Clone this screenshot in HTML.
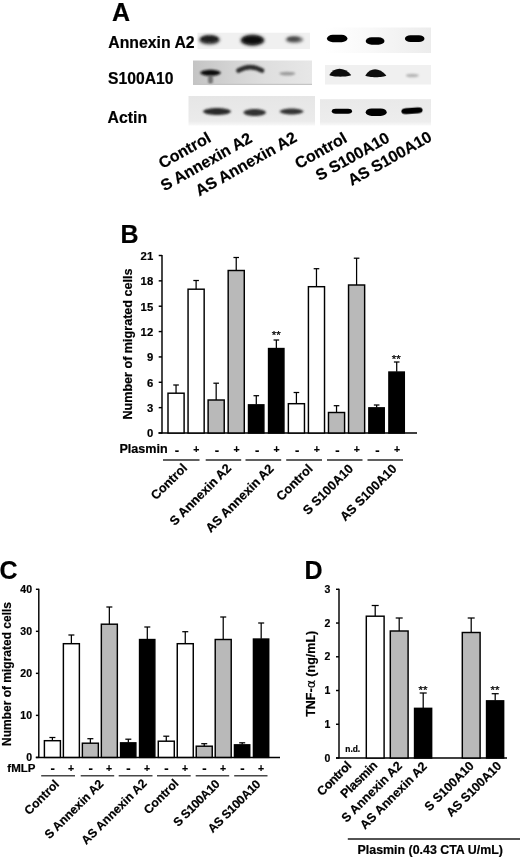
<!DOCTYPE html>
<html><head><meta charset="utf-8"><title>Figure</title>
<style>html,body{margin:0;padding:0;background:#fff}svg{display:block}text{stroke:#000;stroke-width:.2px;stroke-linejoin:round}text.t{stroke-width:.7px}text.st{stroke-width:.25px;font-weight:normal}</style>
</head><body>
<svg width="520" height="859" viewBox="0 0 520 859" font-family="Liberation Sans, sans-serif" font-weight="bold" fill="#000">
<defs>
<filter id="b0" x="-50%" y="-150%" width="200%" height="400%"><feGaussianBlur stdDeviation="0.7"/></filter>
<filter id="b1" x="-50%" y="-150%" width="200%" height="400%"><feGaussianBlur stdDeviation="1.2"/></filter>
<filter id="b2" x="-50%" y="-150%" width="200%" height="400%"><feGaussianBlur stdDeviation="1.6"/></filter>
<filter id="b3" x="-50%" y="-150%" width="200%" height="400%"><feGaussianBlur stdDeviation="2.2"/></filter>
<linearGradient id="g2" x1="0" x2="1"><stop offset="0" stop-color="#c4c4c4"/><stop offset="0.3" stop-color="#d2d2d2"/><stop offset="0.6" stop-color="#dedede"/><stop offset="1" stop-color="#e7e7e7"/></linearGradient>
<linearGradient id="g1" x1="0" x2="1"><stop offset="0" stop-color="#ffffff"/><stop offset="0.4" stop-color="#f9f9f9"/><stop offset="1" stop-color="#ececec"/></linearGradient>
<linearGradient id="g3" x1="0" x2="0" y1="0" y2="1"><stop offset="0" stop-color="#e6e6e6"/><stop offset="0.85" stop-color="#ebebeb"/><stop offset="1" stop-color="#f8f8f8"/></linearGradient>
<linearGradient id="g4" x1="0" x2="0" y1="0" y2="1"><stop offset="0" stop-color="#e9e9e9"/><stop offset="0.85" stop-color="#ededed"/><stop offset="1" stop-color="#f9f9f9"/></linearGradient>
</defs>
<rect width="520" height="859" fill="#fff" stroke="none"/>
<text x="112" y="21" font-size="25" text-anchor="start" >A</text>
<text x="108.3" y="47.5" font-size="15.8" text-anchor="start" >Annexin A2</text>
<text x="108" y="84" font-size="15.7" text-anchor="start" >S100A10</text>
<text x="107.6" y="122.5" font-size="15.8" text-anchor="start" >Actin</text>
<rect x="197.5" y="32.7" width="112.5" height="16.4" fill="#f0f0f0"/>
<ellipse cx="209.5" cy="39.8" rx="10.5" ry="4.75" fill="#4a4a4a" opacity="1" filter="url(#b2)"/>
<ellipse cx="209.5" cy="39.0" rx="8.5" ry="2.75" fill="#1a1a1a" opacity="1" filter="url(#b1)"/>
<ellipse cx="252.5" cy="40.2" rx="12.0" ry="5.75" fill="#3a3a3a" opacity="1" filter="url(#b2)"/>
<ellipse cx="252.5" cy="40.0" rx="10.0" ry="3.75" fill="#111" opacity="1" filter="url(#b1)"/>
<ellipse cx="294.4" cy="39.6" rx="9.0" ry="3.5" fill="#777" opacity="1" filter="url(#b2)"/>
<ellipse cx="293.5" cy="39.0" rx="6.0" ry="1.75" fill="#444" opacity="1" filter="url(#b1)"/>
<rect x="193" y="60.5" width="119" height="24.5" fill="url(#g2)"/>
<path d="M200.00,72.8 C202.21,68.66 218.79,68.66 221.00,72.8 C218.79,76.94 202.21,76.94 200.00,72.8Z" fill="#111" opacity="1" filter="url(#b1)"/>
<ellipse cx="210.5" cy="79.5" rx="2.5" ry="4.5" fill="#555" opacity="0.75" filter="url(#b1)"/>
<path d="M238.5,70.5 Q250.3,63.6 262,70.5" fill="none" stroke="#2e2e2e" stroke-width="4.6" stroke-linecap="round" filter="url(#b1)"/>
<ellipse cx="287.3" cy="73.6" rx="8.0" ry="1.9" fill="#909090" opacity="0.85" filter="url(#b1)"/>
<rect x="193" y="83.8" width="119" height="1.2" fill="#c4c4c4"/>
<rect x="188.5" y="96" width="126.5" height="29.5" fill="url(#g3)"/>
<path d="M202.75,111.6 C205.74,106.93 228.26,106.93 231.25,111.6 C228.26,116.27 205.74,116.27 202.75,111.6Z" fill="#2c2c2c" opacity="1" filter="url(#b1)"/>
<path d="M243.20,112.4 C245.61,107.73 263.78,107.73 266.20,112.4 C263.78,117.07 245.61,117.07 243.20,112.4Z" fill="#303030" opacity="1" filter="url(#b1)"/>
<path d="M279.60,111.6 C282.12,107.60 301.08,107.60 303.60,111.6 C301.08,115.60 282.12,115.60 279.60,111.6Z" fill="#363636" opacity="1" filter="url(#b1)"/>
<rect x="325" y="27.5" width="106" height="25.5" fill="url(#g1)"/>
<rect x="326.95" y="34.85" width="20.5" height="7.3" rx="5.84" ry="3.65" fill="#000" opacity="1" filter="url(#b0)"/>
<rect x="365.70" y="37.30" width="18.8" height="7.4" rx="5.92" ry="3.70" fill="#000" opacity="1" filter="url(#b0)"/>
<rect x="404.95" y="35.30" width="19.5" height="6.8" rx="5.44" ry="3.40" fill="#050505" opacity="1" filter="url(#b0)"/>
<rect x="325" y="65" width="106" height="19.5" fill="#f0f0f0"/>
<path d="M329.3,75.0 C334.3,66.6 344.2,66.6 351.2,75.0 C348.2,77.2 332.3,77.2 329.3,75.0Z" fill="#0c0c0c" filter="url(#b0)"/>
<path d="M365.3,75.6 C370.3,67.2 379.3,67.2 386.3,75.6 C383.3,77.8 368.3,77.8 365.3,75.6Z" fill="#0c0c0c" filter="url(#b0)"/>
<ellipse cx="412.3" cy="75.5" rx="6.5" ry="1.75" fill="#aaa" opacity="0.85" filter="url(#b1)"/>
<rect x="320" y="99.2" width="111" height="26.3" fill="url(#g4)"/>
<rect x="331.75" y="108.75" width="20.3" height="4.9" rx="3.92" ry="2.45" fill="#050505" opacity="1" filter="url(#b0)"/>
<rect x="365.70" y="108.50" width="21.0" height="7.4" rx="5.92" ry="3.70" fill="#000" opacity="1" filter="url(#b0)"/>
<rect x="401.35" y="107.70" width="21.3" height="6.0" rx="4.80" ry="3.00" fill="#050505" opacity="1" filter="url(#b0)" transform="rotate(-4 412 110.7)"/>
<text x="162.5" y="169" font-size="16" text-anchor="start" transform="rotate(-29.5 162.5 169)" >Control</text>
<text x="164.5" y="191.5" font-size="16" text-anchor="start" transform="rotate(-29.5 164.5 191.5)" >S Annexin A2</text>
<text x="199.3" y="196.5" font-size="16" text-anchor="start" transform="rotate(-29.5 199.3 196.5)" >AS Annexin A2</text>
<text x="298.7" y="169.2" font-size="16" text-anchor="start" transform="rotate(-29.5 298.7 169.2)" >Control</text>
<text x="319.5" y="181.3" font-size="16" text-anchor="start" transform="rotate(-29.5 319.5 181.3)" >S S100A10</text>
<text x="351.8" y="186.1" font-size="16" text-anchor="start" transform="rotate(-29.5 351.8 186.1)" >AS S100A10</text>
<text x="120.6" y="242.9" font-size="25" text-anchor="start" >B</text>
<line x1="162.0" y1="254.9" x2="162.0" y2="433.6" stroke="#000" stroke-width="1.45"/>
<line x1="158.5" y1="433.0" x2="417" y2="433.0" stroke="#000" stroke-width="1.45"/>
<line x1="158.7" y1="433.0" x2="162.0" y2="433.0" stroke="#000" stroke-width="1.45"/>
<text x="153.2" y="437.4" font-size="11.3" text-anchor="end" >0</text>
<line x1="158.7" y1="407.64285714285717" x2="162.0" y2="407.64285714285717" stroke="#000" stroke-width="1.45"/>
<text x="153.2" y="412.04285714285714" font-size="11.3" text-anchor="end" >3</text>
<line x1="158.7" y1="382.2857142857143" x2="162.0" y2="382.2857142857143" stroke="#000" stroke-width="1.45"/>
<text x="153.2" y="386.68571428571425" font-size="11.3" text-anchor="end" >6</text>
<line x1="158.7" y1="356.92857142857144" x2="162.0" y2="356.92857142857144" stroke="#000" stroke-width="1.45"/>
<text x="153.2" y="361.3285714285714" font-size="11.3" text-anchor="end" >9</text>
<line x1="158.7" y1="331.57142857142856" x2="162.0" y2="331.57142857142856" stroke="#000" stroke-width="1.45"/>
<text x="153.2" y="335.97142857142853" font-size="11.3" text-anchor="end" >12</text>
<line x1="158.7" y1="306.2142857142857" x2="162.0" y2="306.2142857142857" stroke="#000" stroke-width="1.45"/>
<text x="153.2" y="310.6142857142857" font-size="11.3" text-anchor="end" >15</text>
<line x1="158.7" y1="280.8571428571429" x2="162.0" y2="280.8571428571429" stroke="#000" stroke-width="1.45"/>
<text x="153.2" y="285.25714285714287" font-size="11.3" text-anchor="end" >18</text>
<line x1="158.7" y1="255.5" x2="162.0" y2="255.5" stroke="#000" stroke-width="1.45"/>
<text x="153.2" y="259.9" font-size="11.3" text-anchor="end" >21</text>
<text x="132" y="344" font-size="12.6" text-anchor="middle" transform="rotate(-90 132 344)" >Number of migrated cells</text>
<line x1="176.05" y1="393.2" x2="176.05" y2="385" stroke="#000" stroke-width="1.25"/>
<line x1="173.25" y1="385" x2="178.85000000000002" y2="385" stroke="#000" stroke-width="1.25"/>
<rect x="168.00" y="393.20" width="16.10" height="39.80" fill="#fff" stroke="#000" stroke-width="1.45"/>
<text x="176.85000000000002" y="455.0" font-size="13" text-anchor="middle" >-</text>
<line x1="196.11" y1="289.2" x2="196.11" y2="280.5" stroke="#000" stroke-width="1.25"/>
<line x1="193.31" y1="280.5" x2="198.91000000000003" y2="280.5" stroke="#000" stroke-width="1.25"/>
<rect x="188.06" y="289.20" width="16.10" height="143.80" fill="#fff" stroke="#000" stroke-width="1.45"/>
<text x="196.41000000000003" y="453.0" font-size="10.5" text-anchor="middle" >+</text>
<line x1="216.17000000000002" y1="400" x2="216.17000000000002" y2="383.2" stroke="#000" stroke-width="1.25"/>
<line x1="213.37" y1="383.2" x2="218.97000000000003" y2="383.2" stroke="#000" stroke-width="1.25"/>
<rect x="208.12" y="400.00" width="16.10" height="33.00" fill="#b9b9b9" stroke="#000" stroke-width="1.45"/>
<text x="216.97000000000003" y="455.0" font-size="13" text-anchor="middle" >-</text>
<line x1="236.23000000000002" y1="270.5" x2="236.23000000000002" y2="257.5" stroke="#000" stroke-width="1.25"/>
<line x1="233.43" y1="257.5" x2="239.03000000000003" y2="257.5" stroke="#000" stroke-width="1.25"/>
<rect x="228.18" y="270.50" width="16.10" height="162.50" fill="#b9b9b9" stroke="#000" stroke-width="1.45"/>
<text x="236.53000000000003" y="453.0" font-size="10.5" text-anchor="middle" >+</text>
<line x1="256.29" y1="404.5" x2="256.29" y2="395.7" stroke="#000" stroke-width="1.25"/>
<line x1="253.49" y1="395.7" x2="259.09000000000003" y2="395.7" stroke="#000" stroke-width="1.25"/>
<rect x="248.49" y="404.85" width="15.40" height="28.15" fill="#000" stroke="#000" stroke-width="1.45"/>
<text x="257.09000000000003" y="455.0" font-size="13" text-anchor="middle" >-</text>
<line x1="276.35" y1="348.2" x2="276.35" y2="340" stroke="#000" stroke-width="1.25"/>
<line x1="273.55" y1="340" x2="279.15000000000003" y2="340" stroke="#000" stroke-width="1.25"/>
<rect x="268.55" y="348.55" width="15.40" height="84.45" fill="#000" stroke="#000" stroke-width="1.45"/>
<text x="276.65000000000003" y="453.0" font-size="10.5" text-anchor="middle" >+</text>
<line x1="296.41" y1="403.7" x2="296.41" y2="392.5" stroke="#000" stroke-width="1.25"/>
<line x1="293.61" y1="392.5" x2="299.21000000000004" y2="392.5" stroke="#000" stroke-width="1.25"/>
<rect x="288.36" y="403.70" width="16.10" height="29.30" fill="#fff" stroke="#000" stroke-width="1.45"/>
<text x="297.21000000000004" y="455.0" font-size="13" text-anchor="middle" >-</text>
<line x1="316.46999999999997" y1="286.7" x2="316.46999999999997" y2="268.7" stroke="#000" stroke-width="1.25"/>
<line x1="313.66999999999996" y1="268.7" x2="319.27" y2="268.7" stroke="#000" stroke-width="1.25"/>
<rect x="308.42" y="286.70" width="16.10" height="146.30" fill="#fff" stroke="#000" stroke-width="1.45"/>
<text x="316.77" y="453.0" font-size="10.5" text-anchor="middle" >+</text>
<line x1="336.53000000000003" y1="412.5" x2="336.53000000000003" y2="405.7" stroke="#000" stroke-width="1.25"/>
<line x1="333.73" y1="405.7" x2="339.33000000000004" y2="405.7" stroke="#000" stroke-width="1.25"/>
<rect x="328.48" y="412.50" width="16.10" height="20.50" fill="#b9b9b9" stroke="#000" stroke-width="1.45"/>
<text x="337.33000000000004" y="455.0" font-size="13" text-anchor="middle" >-</text>
<line x1="356.59" y1="285" x2="356.59" y2="258.2" stroke="#000" stroke-width="1.25"/>
<line x1="353.78999999999996" y1="258.2" x2="359.39" y2="258.2" stroke="#000" stroke-width="1.25"/>
<rect x="348.54" y="285.00" width="16.10" height="148.00" fill="#b9b9b9" stroke="#000" stroke-width="1.45"/>
<text x="356.89" y="453.0" font-size="10.5" text-anchor="middle" >+</text>
<line x1="376.65000000000003" y1="407.5" x2="376.65000000000003" y2="405" stroke="#000" stroke-width="1.25"/>
<line x1="373.85" y1="405" x2="379.45000000000005" y2="405" stroke="#000" stroke-width="1.25"/>
<rect x="368.85" y="407.85" width="15.40" height="25.15" fill="#000" stroke="#000" stroke-width="1.45"/>
<text x="377.45000000000005" y="455.0" font-size="13" text-anchor="middle" >-</text>
<line x1="396.71" y1="371.7" x2="396.71" y2="362" stroke="#000" stroke-width="1.25"/>
<line x1="393.90999999999997" y1="362" x2="399.51" y2="362" stroke="#000" stroke-width="1.25"/>
<rect x="388.91" y="372.05" width="15.40" height="60.95" fill="#000" stroke="#000" stroke-width="1.45"/>
<text x="397.01" y="453.0" font-size="10.5" text-anchor="middle" >+</text>
<text x="119.4" y="453.4" font-size="12.6" text-anchor="start" >Plasmin</text>
<text x="276.2" y="338.7" font-size="11.5" text-anchor="middle" class="st">**</text>
<text x="396.2" y="362.7" font-size="11.5" text-anchor="middle" class="st">**</text>
<line x1="163" y1="460" x2="199.5" y2="460" stroke="#2a2a2a" stroke-width="1.3"/>
<line x1="205.7" y1="460" x2="241.2" y2="460" stroke="#2a2a2a" stroke-width="1.3"/>
<line x1="245.5" y1="460" x2="281.2" y2="460" stroke="#2a2a2a" stroke-width="1.3"/>
<line x1="286.2" y1="460" x2="322" y2="460" stroke="#2a2a2a" stroke-width="1.3"/>
<line x1="327" y1="460" x2="362.5" y2="460" stroke="#2a2a2a" stroke-width="1.3"/>
<line x1="367.5" y1="460" x2="403" y2="460" stroke="#2a2a2a" stroke-width="1.3"/>
<text x="187.9" y="468.7" font-size="12.7" text-anchor="end" transform="rotate(-45 187.9 468.7)" >Control</text>
<text x="232" y="469.0" font-size="12.7" text-anchor="end" transform="rotate(-45 232 469.0)" >S Annexin A2</text>
<text x="274.5" y="469.5" font-size="12.7" text-anchor="end" transform="rotate(-45 274.5 469.5)" >AS Annexin A2</text>
<text x="313.5" y="469.5" font-size="12.7" text-anchor="end" transform="rotate(-45 313.5 469.5)" >Control</text>
<text x="354" y="469.5" font-size="12.7" text-anchor="end" transform="rotate(-45 354 469.5)" >S S100A10</text>
<text x="397.5" y="469.5" font-size="12.7" text-anchor="end" transform="rotate(-45 397.5 469.5)" >AS S100A10</text>
<text x="-0.4" y="579.4" font-size="25" text-anchor="start" >C</text>
<line x1="38.8" y1="588.6999999999999" x2="38.8" y2="758.0" stroke="#000" stroke-width="1.45"/>
<line x1="35.8" y1="757.4" x2="280" y2="757.4" stroke="#000" stroke-width="1.45"/>
<line x1="35.9" y1="757.4" x2="38.8" y2="757.4" stroke="#000" stroke-width="1.45"/>
<text x="32" y="761.1" font-size="10.5" text-anchor="end" >0</text>
<line x1="35.9" y1="715.375" x2="38.8" y2="715.375" stroke="#000" stroke-width="1.45"/>
<text x="32" y="719.075" font-size="10.5" text-anchor="end" >10</text>
<line x1="35.9" y1="673.3499999999999" x2="38.8" y2="673.3499999999999" stroke="#000" stroke-width="1.45"/>
<text x="32" y="677.05" font-size="10.5" text-anchor="end" >20</text>
<line x1="35.9" y1="631.3249999999999" x2="38.8" y2="631.3249999999999" stroke="#000" stroke-width="1.45"/>
<text x="32" y="635.025" font-size="10.5" text-anchor="end" >30</text>
<line x1="35.9" y1="589.3" x2="38.8" y2="589.3" stroke="#000" stroke-width="1.45"/>
<text x="32" y="593.0" font-size="10.5" text-anchor="end" >40</text>
<text x="11.2" y="674" font-size="12.0" text-anchor="middle" transform="rotate(-90 11.2 674)" >Number of migrated cells</text>
<line x1="52.4" y1="740.7" x2="52.4" y2="737.5" stroke="#000" stroke-width="1.25"/>
<line x1="49.4" y1="737.5" x2="55.4" y2="737.5" stroke="#000" stroke-width="1.25"/>
<rect x="44.40" y="740.70" width="16.00" height="16.70" fill="#fff" stroke="#000" stroke-width="1.45"/>
<text x="52.6" y="773.0" font-size="13" text-anchor="middle" >-</text>
<line x1="71.38" y1="643.7" x2="71.38" y2="635" stroke="#000" stroke-width="1.25"/>
<line x1="68.38" y1="635" x2="74.38" y2="635" stroke="#000" stroke-width="1.25"/>
<rect x="63.38" y="643.70" width="16.00" height="113.70" fill="#fff" stroke="#000" stroke-width="1.45"/>
<text x="71.17999999999999" y="771.6" font-size="10.5" text-anchor="middle" >+</text>
<line x1="90.36" y1="743.2" x2="90.36" y2="738.7" stroke="#000" stroke-width="1.25"/>
<line x1="87.36" y1="738.7" x2="93.36" y2="738.7" stroke="#000" stroke-width="1.25"/>
<rect x="82.36" y="743.20" width="16.00" height="14.20" fill="#b9b9b9" stroke="#000" stroke-width="1.45"/>
<text x="90.56" y="773.0" font-size="13" text-anchor="middle" >-</text>
<line x1="109.34" y1="624.2" x2="109.34" y2="607" stroke="#000" stroke-width="1.25"/>
<line x1="106.34" y1="607" x2="112.34" y2="607" stroke="#000" stroke-width="1.25"/>
<rect x="101.34" y="624.20" width="16.00" height="133.20" fill="#b9b9b9" stroke="#000" stroke-width="1.45"/>
<text x="109.14" y="771.6" font-size="10.5" text-anchor="middle" >+</text>
<line x1="128.32" y1="742.5" x2="128.32" y2="739.2" stroke="#000" stroke-width="1.25"/>
<line x1="125.32" y1="739.2" x2="131.32" y2="739.2" stroke="#000" stroke-width="1.25"/>
<rect x="120.57" y="742.85" width="15.30" height="14.55" fill="#000" stroke="#000" stroke-width="1.45"/>
<text x="128.51999999999998" y="773.0" font-size="13" text-anchor="middle" >-</text>
<line x1="147.3" y1="639.2" x2="147.3" y2="627" stroke="#000" stroke-width="1.25"/>
<line x1="144.3" y1="627" x2="150.3" y2="627" stroke="#000" stroke-width="1.25"/>
<rect x="139.55" y="639.55" width="15.30" height="117.85" fill="#000" stroke="#000" stroke-width="1.45"/>
<text x="147.10000000000002" y="771.6" font-size="10.5" text-anchor="middle" >+</text>
<line x1="166.28" y1="741.2" x2="166.28" y2="736.2" stroke="#000" stroke-width="1.25"/>
<line x1="163.28" y1="736.2" x2="169.28" y2="736.2" stroke="#000" stroke-width="1.25"/>
<rect x="158.28" y="741.20" width="16.00" height="16.20" fill="#fff" stroke="#000" stroke-width="1.45"/>
<text x="166.48" y="773.0" font-size="13" text-anchor="middle" >-</text>
<line x1="185.26000000000002" y1="643.7" x2="185.26000000000002" y2="631.7" stroke="#000" stroke-width="1.25"/>
<line x1="182.26000000000002" y1="631.7" x2="188.26000000000002" y2="631.7" stroke="#000" stroke-width="1.25"/>
<rect x="177.26" y="643.70" width="16.00" height="113.70" fill="#fff" stroke="#000" stroke-width="1.45"/>
<text x="185.06000000000003" y="771.6" font-size="10.5" text-anchor="middle" >+</text>
<line x1="204.24" y1="746.2" x2="204.24" y2="743.7" stroke="#000" stroke-width="1.25"/>
<line x1="201.24" y1="743.7" x2="207.24" y2="743.7" stroke="#000" stroke-width="1.25"/>
<rect x="196.24" y="746.20" width="16.00" height="11.20" fill="#b9b9b9" stroke="#000" stroke-width="1.45"/>
<text x="204.44" y="773.0" font-size="13" text-anchor="middle" >-</text>
<line x1="223.22" y1="639.5" x2="223.22" y2="617" stroke="#000" stroke-width="1.25"/>
<line x1="220.22" y1="617" x2="226.22" y2="617" stroke="#000" stroke-width="1.25"/>
<rect x="215.22" y="639.50" width="16.00" height="117.90" fill="#b9b9b9" stroke="#000" stroke-width="1.45"/>
<text x="223.02" y="771.6" font-size="10.5" text-anchor="middle" >+</text>
<line x1="242.20000000000002" y1="744.5" x2="242.20000000000002" y2="742.8" stroke="#000" stroke-width="1.25"/>
<line x1="239.20000000000002" y1="742.8" x2="245.20000000000002" y2="742.8" stroke="#000" stroke-width="1.25"/>
<rect x="234.45" y="744.85" width="15.30" height="12.55" fill="#000" stroke="#000" stroke-width="1.45"/>
<text x="242.4" y="773.0" font-size="13" text-anchor="middle" >-</text>
<line x1="261.18" y1="638.7" x2="261.18" y2="623" stroke="#000" stroke-width="1.25"/>
<line x1="258.18" y1="623" x2="264.18" y2="623" stroke="#000" stroke-width="1.25"/>
<rect x="253.43" y="639.05" width="15.30" height="118.35" fill="#000" stroke="#000" stroke-width="1.45"/>
<text x="260.98" y="771.6" font-size="10.5" text-anchor="middle" >+</text>
<text x="7.3" y="772.3" font-size="11.5" text-anchor="start" >fMLP</text>
<line x1="41.2" y1="775.7" x2="75" y2="775.7" stroke="#484848" stroke-width="1.5"/>
<line x1="80.7" y1="775.7" x2="114.2" y2="775.7" stroke="#484848" stroke-width="1.5"/>
<line x1="118.7" y1="775.7" x2="152.5" y2="775.7" stroke="#484848" stroke-width="1.5"/>
<line x1="157" y1="775.7" x2="190.7" y2="775.7" stroke="#484848" stroke-width="1.5"/>
<line x1="195.7" y1="775.7" x2="229.2" y2="775.7" stroke="#484848" stroke-width="1.5"/>
<line x1="234.2" y1="775.7" x2="267.5" y2="775.7" stroke="#484848" stroke-width="1.5"/>
<text x="60.0" y="784.8" font-size="12.2" text-anchor="end" transform="rotate(-45 60.0 784.8)" letter-spacing="0">Control</text>
<text x="104.4" y="784.6" font-size="12.2" text-anchor="end" transform="rotate(-45 104.4 784.6)" letter-spacing="0">S Annexin A2</text>
<text x="147.5" y="784.2" font-size="12.2" text-anchor="end" transform="rotate(-45 147.5 784.2)" letter-spacing="0">AS Annexin A2</text>
<text x="179.3" y="784.2" font-size="12.2" text-anchor="end" transform="rotate(-45 179.3 784.2)" letter-spacing="0">Control</text>
<text x="220.3" y="785.0" font-size="12.2" text-anchor="end" transform="rotate(-45 220.3 785.0)" letter-spacing="-0.3">S S100A10</text>
<text x="261.2" y="785.0" font-size="12.2" text-anchor="end" transform="rotate(-45 261.2 785.0)" letter-spacing="-0.25">AS S100A10</text>
<text x="304.6" y="579.4" font-size="25" text-anchor="start" >D</text>
<line x1="339.0" y1="588.6999999999999" x2="339.0" y2="758.6" stroke="#000" stroke-width="1.45"/>
<line x1="336.0" y1="758.0" x2="507" y2="758.0" stroke="#000" stroke-width="1.45"/>
<line x1="336.0" y1="758.0" x2="339.0" y2="758.0" stroke="#000" stroke-width="1.45"/>
<text x="330.3" y="761.7" font-size="10.5" text-anchor="end" >0</text>
<line x1="336.0" y1="724.26" x2="339.0" y2="724.26" stroke="#000" stroke-width="1.45"/>
<text x="330.3" y="727.96" font-size="10.5" text-anchor="end" >1</text>
<line x1="336.0" y1="690.52" x2="339.0" y2="690.52" stroke="#000" stroke-width="1.45"/>
<text x="330.3" y="694.22" font-size="10.5" text-anchor="end" >1</text>
<line x1="336.0" y1="656.78" x2="339.0" y2="656.78" stroke="#000" stroke-width="1.45"/>
<text x="330.3" y="660.48" font-size="10.5" text-anchor="end" >2</text>
<line x1="336.0" y1="623.04" x2="339.0" y2="623.04" stroke="#000" stroke-width="1.45"/>
<text x="330.3" y="626.74" font-size="10.5" text-anchor="end" >2</text>
<line x1="336.0" y1="589.3" x2="339.0" y2="589.3" stroke="#000" stroke-width="1.45"/>
<text x="330.3" y="593.0" font-size="10.5" text-anchor="end" >3</text>
<text x="315.3" y="673.8" font-size="12.5" text-anchor="middle" transform="rotate(-90 315.3 673.8)">TNF-<tspan font-family="DejaVu Sans, Liberation Sans, sans-serif" font-weight="normal">α</tspan> (ng/mL)</text>
<text x="345.3" y="752" font-size="8.4" text-anchor="start" >n.d.</text>
<line x1="375.2" y1="616.2" x2="375.2" y2="605.5" stroke="#000" stroke-width="1.25"/>
<line x1="371.7" y1="605.5" x2="378.7" y2="605.5" stroke="#000" stroke-width="1.25"/>
<rect x="366.30" y="616.20" width="17.80" height="141.80" fill="#fff" stroke="#000" stroke-width="1.45"/>
<line x1="399.2" y1="631" x2="399.2" y2="618" stroke="#000" stroke-width="1.25"/>
<line x1="395.7" y1="618" x2="402.7" y2="618" stroke="#000" stroke-width="1.25"/>
<rect x="390.30" y="631.00" width="17.80" height="127.00" fill="#b9b9b9" stroke="#000" stroke-width="1.45"/>
<line x1="423.2" y1="708" x2="423.2" y2="693" stroke="#000" stroke-width="1.25"/>
<line x1="419.7" y1="693" x2="426.7" y2="693" stroke="#000" stroke-width="1.25"/>
<rect x="414.55" y="708.35" width="17.10" height="49.65" fill="#000" stroke="#000" stroke-width="1.45"/>
<line x1="471.2" y1="632.5" x2="471.2" y2="618" stroke="#000" stroke-width="1.25"/>
<line x1="467.7" y1="618" x2="474.7" y2="618" stroke="#000" stroke-width="1.25"/>
<rect x="462.30" y="632.50" width="17.80" height="125.50" fill="#b9b9b9" stroke="#000" stroke-width="1.45"/>
<line x1="495.2" y1="700.5" x2="495.2" y2="693.7" stroke="#000" stroke-width="1.25"/>
<line x1="491.7" y1="693.7" x2="498.7" y2="693.7" stroke="#000" stroke-width="1.25"/>
<rect x="486.55" y="700.85" width="17.10" height="57.15" fill="#000" stroke="#000" stroke-width="1.45"/>
<text x="423" y="694.2" font-size="11.5" text-anchor="middle" class="st">**</text>
<text x="495" y="693.7" font-size="11.5" text-anchor="middle" class="st">**</text>
<text x="352.0" y="766.6" font-size="12.5" text-anchor="end" transform="rotate(-45 352.0 766.6)" letter-spacing="-0.3">Control</text>
<text x="378" y="766.3" font-size="12.5" text-anchor="end" transform="rotate(-45 378 766.3)" letter-spacing="-0.3">Plasmin</text>
<text x="402.9" y="766.6" font-size="12.5" text-anchor="end" transform="rotate(-45 402.9 766.6)" letter-spacing="0">S Annexin A2</text>
<text x="427.8" y="767.2" font-size="12.5" text-anchor="end" transform="rotate(-45 427.8 767.2)" letter-spacing="0">AS Annexin A2</text>
<text x="474.7" y="766.5" font-size="12.5" text-anchor="end" transform="rotate(-45 474.7 766.5)" letter-spacing="0">S S100A10</text>
<text x="502.2" y="766.7" font-size="12.5" text-anchor="end" transform="rotate(-45 502.2 766.7)" letter-spacing="-0.1">AS S100A10</text>
<line x1="347.8" y1="839" x2="520" y2="839" stroke="#1a1a1a" stroke-width="1.4"/>
<text x="357.6" y="854" font-size="12.4" text-anchor="start" >Plasmin (0.43 CTA U/mL)</text>
</svg>
</body></html>
